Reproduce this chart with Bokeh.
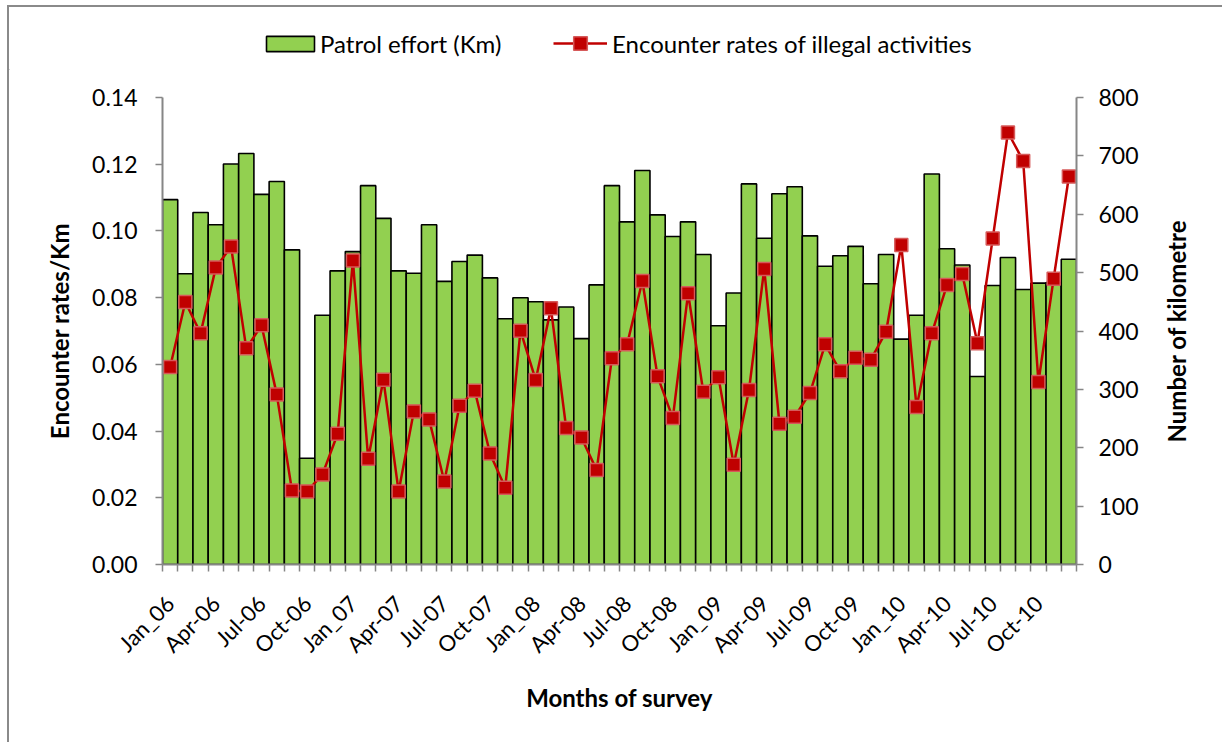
from math import pi

from bokeh.core.properties import value
from bokeh.embed import file_html
from bokeh.layouts import column, row
from bokeh.models import (ColumnDataSource, FixedTicker, Legend, LegendItem,
                          LinearAxis, NumeralTickFormatter, Range1d)
from bokeh.plotting import figure
from bokeh.resources import INLINE

# Quarter labels shown on the month axis (one every three months)
tick_labels = ["Jan_06", "Apr-06", "Jul-06", "Oct-06",
               "Jan_07", "Apr-07", "Jul-07", "Oct-07",
               "Jan_08", "Apr-08", "Jul-08", "Oct-08",
               "Jan_09", "Apr-09", "Jul-09", "Oct-09",
               "Jan_10", "Apr-10", "Jul-10", "Oct-10"]

# Monthly patrol effort in kilometres, Jan 2006 - Dec 2010
patrol_km = [625, 498, 603, 582, 686, 704, 634, 656, 539, 182, 427, 503,
             536, 649, 593, 503, 499, 582, 485, 519, 530, 491, 421, 457,
             450, 419, 441, 387, 479, 649, 587, 675, 599, 562, 587, 531,
             409, 465, 652, 559, 635, 647, 563, 511, 529, 545, 481, 531,
             386, 427, 669, 541, 513, 322, 478, 526, 471, 482, 483, 523]

# Encounter rates of illegal activities per km, same months
encounter_rate = [0.0592, 0.0787, 0.0693, 0.0890, 0.0953, 0.0648, 0.0717, 0.0510, 0.0222, 0.0219, 0.0270, 0.0392,
                  0.0911, 0.0317, 0.0554, 0.0219, 0.0459, 0.0435, 0.0249, 0.0476, 0.0521, 0.0333, 0.0230, 0.0701,
                  0.0553, 0.0768, 0.0409, 0.0381, 0.0283, 0.0618, 0.0660, 0.0850, 0.0564, 0.0439, 0.0813, 0.0518,
                  0.0561, 0.0299, 0.0523, 0.0886, 0.0422, 0.0443, 0.0514, 0.0660, 0.0579, 0.0620, 0.0614, 0.0698,
                  0.0958, 0.0472, 0.0693, 0.0838, 0.0871, 0.0663, 0.0977, 0.1295, 0.1210, 0.0547, 0.0857, 0.1163]

series_names = ["Patrol effort (Km)", "Encounter rates of illegal activities"]
right_title = "Number of kilometre"

n_months = len(patrol_km)
src = ColumnDataSource(dict(
    x=[m + 0.5 for m in range(n_months)],
    km=patrol_km,
    rate=encounter_rate,
))

FONT = "Lato"
GREY = "#868686"
BAR_FILL = "#92D050"
RED = "#C00000"
RED_EDGE = "#D65A5A"
TICK_SIZE = "23px"
TITLE_SIZE = "24px"

bar_style = dict(fill_color=BAR_FILL, line_color="black", line_width=1.6)
line_style = dict(line_color=RED, line_width=2.5)
marker_style = dict(marker="square", size=13, fill_color=RED,
                    line_color=RED_EDGE, line_width=1.5)


def bare_figure(width, height, **kw):
    f = figure(width=width, height=height, output_backend="svg",
               toolbar_location=None, x_axis_location=None,
               y_axis_location=None, outline_line_color=None,
               x_range=Range1d(0, 1), y_range=Range1d(0, 1),
               border_fill_color="white", background_fill_color="white",
               **kw)
    f.grid.visible = False
    return f


# ---- main chart -------------------------------------------------------
p = figure(width=1142, height=672,
           x_range=Range1d(0, n_months), y_range=Range1d(0, 0.14),
           output_backend="svg", toolbar_location=None,
           min_border_left=153, min_border_right=75,
           min_border_top=27, min_border_bottom=178,
           outline_line_color=None, background_fill_color="white",
           border_fill_color="white")
p.xgrid.visible = False
p.ygrid.visible = False
p.extra_y_ranges = {"km": Range1d(0, 800)}

bars = p.vbar(x="x", top="km", bottom=0, width=1.0, source=src,
              y_range_name="km", **bar_style)
p.line(x="x", y="rate", source=src, **line_style)
p.scatter(x="x", y="rate", source=src, **marker_style)

# Month axis: ticks at month boundaries, labels every quarter
xa = p.xaxis[0]
xa.ticker = FixedTicker(ticks=[0.5 + 3 * i for i in range(len(tick_labels))],
                        minor_ticks=list(range(n_months + 1)))
xa.major_label_overrides = {0.5 + 3 * i: lab for i, lab in enumerate(tick_labels)}
xa.major_tick_line_color = None
xa.major_tick_in = 0
xa.major_tick_out = 0
xa.minor_tick_in = 0
xa.minor_tick_out = 7
xa.minor_tick_line_color = GREY
xa.minor_tick_line_width = 1.5
xa.axis_line_color = GREY
xa.axis_line_width = 2
xa.major_label_orientation = pi / 4
xa.major_label_standoff = 28
xa.major_label_text_font = FONT
xa.major_label_text_font_size = "22px"
xa.major_label_text_color = "black"
xa.axis_label = "Months of survey"
xa.axis_label_text_font = FONT
xa.axis_label_text_font_style = "bold"
xa.axis_label_text_font_size = TITLE_SIZE
xa.axis_label_text_color = "black"
xa.axis_label_standoff = 12


def style_y(ax, standoff):
    ax.major_tick_in = 0
    ax.major_tick_out = 7
    ax.major_tick_line_color = GREY
    ax.major_tick_line_width = 1.5
    ax.minor_tick_line_color = None
    ax.axis_line_color = GREY
    ax.axis_line_width = 2
    ax.major_label_standoff = standoff
    ax.major_label_text_font = FONT
    ax.major_label_text_font_size = TICK_SIZE
    ax.major_label_text_color = "black"


ya = p.yaxis[0]
ya.ticker = FixedTicker(ticks=[0.02 * i for i in range(8)])
ya.formatter = NumeralTickFormatter(format="0.00")
style_y(ya, 18)
ya.axis_label = "Encounter rates/Km"
ya.axis_label_text_font = FONT
ya.axis_label_text_font_style = "bold"
ya.axis_label_text_font_size = TITLE_SIZE
ya.axis_label_text_color = "black"
ya.axis_label_standoff = 15

yr = LinearAxis(y_range_name="km",
                ticker=FixedTicker(ticks=list(range(0, 801, 100))))
style_y(yr, 15)
p.add_layout(yr, "right")

# ---- right-hand axis title, reading bottom to top ----------------------
side = bare_figure(71, 672, min_border_left=0, min_border_right=0,
                   min_border_top=27, min_border_bottom=178)
side.text(x=[0.35], y=[0.5], text=[right_title], angle=pi / 2,
          text_align="center", text_baseline="middle",
          text_font=value(FONT), text_font_style="bold",
          text_font_size=TITLE_SIZE, text_color="black")

# ---- legend strip above the chart --------------------------------------
# key glyphs sit outside the visible range; only their legend swatches show
top = bare_figure(1213, 63, min_border=0)
key_src = ColumnDataSource(dict(x=[-5.0, -4.0], y=[-5.0, -4.0]))
key_bar = top.vbar(x="x", top="y", width=1.0, source=key_src, **bar_style)
key_line = top.line(x="x", y="y", source=key_src, **line_style)
key_pts = top.scatter(x="x", y="y", source=key_src, **marker_style)

key_style = dict(orientation="horizontal", padding=0, margin=0,
                 label_text_font=FONT, label_text_font_size="24px",
                 label_text_color="black", border_line_color=None,
                 background_fill_alpha=0)
bar_key = Legend(items=[LegendItem(label=series_names[0], renderers=[key_bar])],
                 location=(251, 12), glyph_width=60, glyph_height=19,
                 label_height=19, label_standoff=0, **key_style)
line_key = Legend(items=[LegendItem(label=series_names[1],
                                    renderers=[key_line, key_pts])],
                  location=(544, 10), glyph_width=54, glyph_height=34,
                  label_height=19, label_standoff=5, **key_style)
top.add_layout(bar_key, "center")
top.add_layout(line_key, "center")

layout = column(top, row(p, side),
                styles={"margin-left": "7px", "margin-top": "5px",
                        "border-left": "2px solid #8a8a8a",
                        "border-top": "2px solid #8a8a8a"})

open("out.html", "w").write(file_html(layout, INLINE))
